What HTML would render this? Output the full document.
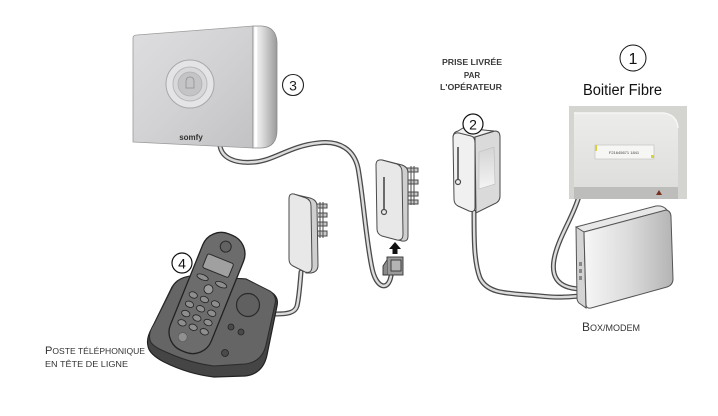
<!DOCTYPE html>
<html><head><meta charset="utf-8"><style>
html,body{margin:0;padding:0;background:#fff;}
svg{display:block;}
text{font-family:"Liberation Sans",sans-serif;}
</style></head><body>
<svg width="718" height="416" viewBox="0 0 718 416" xmlns="http://www.w3.org/2000/svg">
<defs>
<linearGradient id="sf" x1="0" y1="0" x2="1" y2="1"><stop offset="0" stop-color="#dedee0"/><stop offset="0.5" stop-color="#d2d2d4"/><stop offset="1" stop-color="#c2c2c4"/></linearGradient>
<linearGradient id="sr" x1="0" y1="0" x2="1" y2="0"><stop offset="0" stop-color="#f8f8f8"/><stop offset="0.35" stop-color="#e0e0e0"/><stop offset="1" stop-color="#9a9a9a"/></linearGradient>
<linearGradient id="bx" x1="0" y1="0" x2="1" y2="0"><stop offset="0" stop-color="#f6f6f6"/><stop offset="0.5" stop-color="#dcdcdc"/><stop offset="1" stop-color="#b4b4b4"/></linearGradient>
<linearGradient id="ph" x1="0" y1="0" x2="0" y2="1"><stop offset="0" stop-color="#ececea"/><stop offset="1" stop-color="#dededc"/></linearGradient>
<linearGradient id="rec" x1="0" y1="0" x2="0" y2="1"><stop offset="0" stop-color="#d4d4d4"/><stop offset="1" stop-color="#f4f4f4"/></linearGradient>
</defs>

<!-- cables -->
<g fill="none" stroke-linecap="round" stroke-linejoin="round">
<path d="M220,146 C222,158 235,164 255,162 C275,160 290,146 318,143 C340,140 354,150 358,168 C363,195 366,240 372,268 C376,288 388,292 391,276" stroke="#4a4a4a" stroke-width="5"/>
<path d="M220,146 C222,158 235,164 255,162 C275,160 290,146 318,143 C340,140 354,150 358,168 C363,195 366,240 372,268 C376,288 388,292 391,276" stroke="#dcdcdc" stroke-width="2.4"/>
<path d="M301,272 C300,285 299,298 297,306 C295,313 287,314 276,314" stroke="#4a4a4a" stroke-width="5"/>
<path d="M301,272 C300,285 299,298 297,306 C295,313 287,314 276,314" stroke="#dcdcdc" stroke-width="2.4"/>
<path d="M474,212 C474,240 474,262 480,278 C488,295 510,293 540,296 C558,298 568,297 580,296" stroke="#4a4a4a" stroke-width="5"/>
<path d="M474,212 C474,240 474,262 480,278 C488,295 510,293 540,296 C558,298 568,297 580,296" stroke="#dcdcdc" stroke-width="2.4"/>
<path d="M579,196 C574,215 560,235 555,255 C550,275 556,288 580,289" stroke="#4a4a4a" stroke-width="5"/>
<path d="M579,196 C574,215 560,235 555,255 C550,275 556,288 580,289" stroke="#dcdcdc" stroke-width="2.4"/>
</g>

<!-- Somfy device -->
<path d="M133,38 Q133,35 137,35 L253,26 L253,148 L133,142 Z" fill="url(#sf)" stroke="#9a9a9a" stroke-width="0.8"/>
<path d="M253,26 L262,26 Q276,27 277,42 L277,130 Q277,147 262,148 L253,148 Z" fill="url(#sr)" stroke="#8a8a8a" stroke-width="0.8"/>
<line x1="256" y1="27" x2="256" y2="147" stroke="#ffffff" stroke-width="2.5"/>
<circle cx="190" cy="84" r="24" fill="#e4e4e6" stroke="#a8a8aa" stroke-width="1"/>
<circle cx="190" cy="84" r="17" fill="#d8d8da" stroke="#b8b8ba" stroke-width="1"/>
<circle cx="190" cy="84" r="12" fill="#c4c4c6" stroke="#b0b0b2" stroke-width="0.8"/>
<path d="M186,82 Q186,77 190,77 Q194,77 194,82 L194,88 L186,88 Z" fill="none" stroke="#9a9a9c" stroke-width="1"/>
<text x="191" y="140" font-size="8" font-weight="bold" fill="#333" text-anchor="middle">somfy</text>
<circle cx="293" cy="85" r="10.5" fill="#fff" stroke="#222" stroke-width="1.1"/>
<text x="293" y="90.5" font-size="14" fill="#222" text-anchor="middle">3</text>

<!-- Phone base -->
<path d="M148,346 Q146,338 152,328 L172,287 Q178,277 192,276 L246,279 L271,292 Q279,297 277,306 L267,355 Q263,374 245,376 L214,377 Q188,374 164,362 Q149,354 148,346 Z" fill="#454545" stroke="#222" stroke-width="1.2"/>
<path d="M150,340 Q148,333 154,324 L173,286 Q179,277 192,276 L246,279 L270,291 Q277,296 275,304 L266,345 Q262,362 245,364 L214,366 Q190,363 166,352 Q151,346 150,340 Z" fill="#656565" stroke="#2a2a2a" stroke-width="1"/>
<circle cx="248" cy="305" r="11.5" fill="#606060" stroke="#2a2a2a" stroke-width="1.2"/>
<circle cx="231" cy="327" r="3" fill="#4a4a4a" stroke="#222" stroke-width="0.8"/>
<circle cx="241" cy="332" r="3" fill="#4a4a4a" stroke="#222" stroke-width="0.8"/>
<circle cx="225" cy="353" r="3.5" fill="#4a4a4a" stroke="#222" stroke-width="0.8"/>

<!-- Handset -->
<g transform="translate(207,293) rotate(22)">
<rect x="-22" y="-63" width="44" height="126" rx="20" fill="#6c6c6c" stroke="#222" stroke-width="1.3"/>
<circle cx="0" cy="-50" r="5.5" fill="#626262" stroke="#2a2a2a" stroke-width="1"/>
<rect x="-14" y="-37" width="28" height="15" rx="2" fill="#a0a0a0" stroke="#2a2a2a" stroke-width="1"/>
<ellipse cx="-10" cy="-13" rx="6" ry="2.6" fill="#8e8e8e" stroke="#222" stroke-width="0.8"/>
<ellipse cx="10" cy="-13" rx="6" ry="2.6" fill="#8e8e8e" stroke="#222" stroke-width="0.8"/>
<circle cx="0" cy="-4" r="4.5" fill="#9c9c9c" stroke="#222" stroke-width="0.8"/>
<g fill="#8e8e8e" stroke="#222" stroke-width="0.8">
<ellipse cx="-12" cy="7" rx="4.3" ry="3"/><ellipse cx="0" cy="7" rx="4.3" ry="3"/><ellipse cx="12" cy="7" rx="4.3" ry="3"/>
<ellipse cx="-12" cy="17" rx="4.3" ry="3"/><ellipse cx="0" cy="17" rx="4.3" ry="3"/><ellipse cx="12" cy="17" rx="4.3" ry="3"/>
<ellipse cx="-12" cy="27" rx="4.3" ry="3"/><ellipse cx="0" cy="27" rx="4.3" ry="3"/><ellipse cx="12" cy="27" rx="4.3" ry="3"/>
<ellipse cx="-12" cy="37" rx="4.3" ry="3"/><ellipse cx="0" cy="37" rx="4.3" ry="3"/><ellipse cx="12" cy="37" rx="4.3" ry="3"/>
</g>
<circle cx="-6" cy="50" r="4.5" fill="#909090" stroke="#555" stroke-width="0.6"/>
</g>
<circle cx="182" cy="263" r="10" fill="#fff" stroke="#111" stroke-width="1.2"/>
<text x="182" y="268.5" font-size="14" fill="#111" text-anchor="middle">4</text>

<!-- Adapter 1 (near phone) -->
<g stroke="#4a4a4a" stroke-width="1" fill="#e2e2e2">
<path d="M315,204 L327,204 L327,208 L318,208 M318,213 L327,213 L327,217 L318,217 M318,222 L327,222 L327,226 L318,226 M318,231 L327,231 L327,236 L318,236" fill="#c8c8c8"/>
<line x1="320" y1="202" x2="320" y2="238"/>
<line x1="323" y1="202" x2="323" y2="238"/>
<path d="M293,194 L310,198 Q317,200 317,206 L318,265 Q318,272 311,273 L306,273 Z" fill="#cfcfcf"/>
<path d="M289,199 Q289,193 294,194 L306,198 Q311,200 311,206 L312,266 Q312,274 305,272 L293,266 Q289,264 289,259 Z" fill="#e8e8e8"/>
</g>

<!-- Adapter 2 (centre) -->
<g stroke="#4a4a4a" stroke-width="1">
<path d="M405,168 L418,168 L418,172 L408,172 M408,180 L418,180 L418,184 L408,184 M408,192 L418,192 L418,196 L408,196 M408,200 L418,200 L418,204 L408,204" fill="#c8c8c8"/>
<line x1="411" y1="166" x2="411" y2="205"/>
<line x1="414" y1="166" x2="414" y2="205"/>
<path d="M382,160 L402,165 Q408,167 408,173 L408,236 Q408,242 402,241 L398,240 Z" fill="#cfcfcf"/>
<path d="M376,165 Q376,159 382,160 L397,164 Q402,166 402,172 L403,234 Q403,241 397,240 L382,236 Q377,234 377,229 Z" fill="#e8e8e8"/>
<line x1="384" y1="177" x2="384" y2="210" stroke-width="1.6"/>
<circle cx="384" cy="212" r="2.5" fill="#e8e8e8" stroke-width="1.2"/>
</g>
<path d="M395,242 L401,249 L397.5,249 L397.5,254 L392.5,254 L392.5,249 L389,249 Z" fill="#111"/>
<g stroke="#333" stroke-width="0.9">
<rect x="387" y="257" width="16" height="18" fill="#9a9a9a"/>
<rect x="391" y="260" width="10" height="11" fill="#b4b4b4"/>
<path d="M387,260 L383,266 L383,275 L387,275" fill="#8a8a8a"/>
</g>

<!-- Prise ② -->
<g stroke="#4a4a4a" stroke-width="1">
<path d="M475,137 L495,131 Q500,131 500,137 L500,196 Q500,202 494,204 L476,213 Z" fill="#dadada"/>
<path d="M453,138 Q453,132 458,131 L463,128 L494,131 L475,137 Z" fill="#f2f2f2"/>
<path d="M453,138 Q453,132 459,133 L471,136 Q475,137 475,143 L475,207 Q475,213 469,211 L458,206 Q454,204 454,199 Z" fill="#f0f0f0"/>
<path d="M479,152 L494,147 L495,184 L479,189 Z" fill="url(#rec)" stroke="#bbb" stroke-width="0.6"/>
<line x1="458" y1="147" x2="458" y2="180" stroke-width="1.6"/>
<circle cx="458" cy="182" r="2.5" fill="#f0f0f0" stroke-width="1.2"/>
</g>
<circle cx="473" cy="124" r="10" fill="#fff" stroke="#111" stroke-width="1.2"/>
<text x="473" y="129.5" font-size="14" fill="#111" text-anchor="middle">2</text>

<!-- Box/modem -->
<g stroke="#555" stroke-width="1">
<path d="M576,227 L656,206 Q663,205 667,210 L584,232 Q579,231 576,227 Z" fill="#e8e8e8"/>
<path d="M576,227 L584,232 L586,308 L579,303 Q577,301 577,298 Z" fill="#d4d4d4"/>
<path d="M584,232 L666,210 Q671,211 671,217 L673,279 Q673,285 667,287 L591,308 Q586,309 586,304 Z" fill="url(#bx)"/>
<g fill="#888" stroke="none"><rect x="579" y="262" width="3" height="4"/><rect x="579" y="269" width="3" height="4"/><rect x="579" y="276" width="3" height="4"/></g>
</g>
<text x="582" y="331" font-size="12" fill="#333">B<tspan font-size="9">OX/MODEM</tspan></text>

<!-- Photo Boitier Fibre -->
<rect x="569" y="106" width="118" height="93" fill="#d4d4d1"/>
<path d="M574,113 L664,113 Q677,115 678,128 L678,187 L574,187 Z" fill="url(#ph)"/>
<path d="M574,113 L664,113 Q677,115 678,128" fill="none" stroke="#f6f6f4" stroke-width="1.5"/>
<rect x="574" y="187" width="104" height="12" fill="#bdbdbb"/>
<rect x="595" y="145" width="59" height="14" fill="#f6f6f4" stroke="#bdbdbb" stroke-width="0.6"/>
<rect x="595" y="145" width="2" height="6" fill="#d8d040"/>
<rect x="651" y="155" width="3" height="3" fill="#d8d040"/>
<text x="624" y="154" font-size="4" fill="#444" text-anchor="middle">F21645671 1841</text>
<path d="M656,195 L659,190 L662,195 Z" fill="#7a3020"/>

<circle cx="633" cy="58" r="13" fill="#fff" stroke="#111" stroke-width="1"/>
<text x="633" y="64" font-size="16" fill="#111" text-anchor="middle">1</text>
<text x="583" y="95" font-size="15.5" fill="#111" textLength="79" lengthAdjust="spacingAndGlyphs">Boitier Fibre</text>

<!-- Labels -->
<g font-weight="bold" fill="#3a3a3a" font-size="8" text-anchor="middle">
<text x="472" y="65" textLength="60" lengthAdjust="spacingAndGlyphs">PRISE LIVRÉE</text>
<text x="472" y="78">PAR</text>
<text x="471" y="90" textLength="62" lengthAdjust="spacingAndGlyphs">L'OPÉRATEUR</text>
</g>
<text x="45" y="354" font-size="11" fill="#333" textLength="100" lengthAdjust="spacingAndGlyphs">P<tspan font-size="8.5">OSTE TÉLÉPHONIQUE</tspan></text>
<text x="45" y="367" font-size="8.5" fill="#333" textLength="83" lengthAdjust="spacingAndGlyphs">EN TÊTE DE LIGNE</text>
</svg>
</body></html>
